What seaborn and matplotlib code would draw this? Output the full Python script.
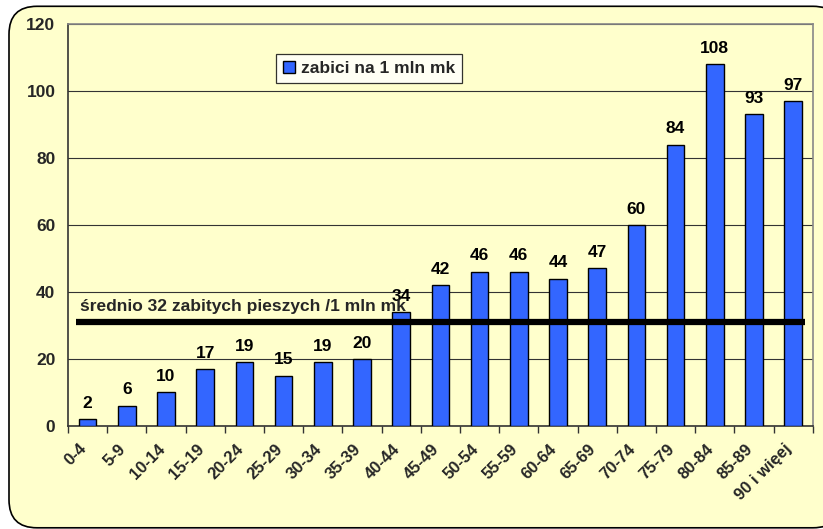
import matplotlib
matplotlib.use("Agg")
import matplotlib.pyplot as plt
import matplotlib.transforms as mtransforms
import numpy as np
import seaborn as sns
from matplotlib.patches import FancyBboxPatch
from matplotlib.ticker import FixedLocator

# data
age_groups = ["0-4", "5-9", "10-14", "15-19", "20-24", "25-29", "30-34", "35-39",
              "40-44", "45-49", "50-54", "55-59", "60-64", "65-69", "70-74",
              "75-79", "80-84", "85-89", "90 i więej"]
killed_per_mln = [2, 6, 10, 17, 19, 15, 19, 20, 34, 42, 46, 46, 44, 47, 60,
                  84, 108, 93, 97]
average_level = 31
average_label = "średnio 32 zabitych pieszych /1 mln mk"
series_label = "zabici na 1 mln mk"

BG = "#FFFFCC"
BAR = "#3366FF"

sns.set_theme(style="white")
plt.rcParams["font.family"] = ["Liberation Sans", "DejaVu Sans"]
plt.rcParams["font.weight"] = "bold"

fig = plt.figure(figsize=(8.23, 5.29), dpi=100)
fig.patch.set_facecolor("white")
# rounded chart frame, right edge just past the picture
frame = FancyBboxPatch((0.09, 0.012), 8.32, 5.215,
                       boxstyle="round,pad=0,rounding_size=0.28",
                       transform=fig.dpi_scale_trans, facecolor=BG,
                       edgecolor="black", linewidth=1.2, zorder=-10)
fig.patches.append(frame)

ax = fig.add_axes([0.0826, 0.195, 0.905, 0.7596])
ax.set_facecolor(BG)

sns.barplot(x=age_groups, y=killed_per_mln, color=BAR, width=0.45,
            edgecolor="black", linewidth=1.0, saturation=1, ax=ax,
            label=series_label, zorder=3)

ax.bar_label(ax.containers[0], fmt="%d", padding=6, fontsize=12.5,
             fontweight="bold", color="black")

ax.set_ylim(0, 120)
ax.set_xlim(-0.5, len(age_groups) - 0.5)
ax.set_yticks(np.arange(0, 121, 20))
ax.yaxis.grid(True, color="#333333", linewidth=0.8, zorder=0)
ax.set_axisbelow(True)

ax.tick_params(axis="y", length=5, width=1, color="#333333", pad=4,
               labelsize=12.5)
ax.tick_params(axis="x", which="major", length=0, labelsize=12, pad=11)
ax.xaxis.set_minor_locator(FixedLocator(np.arange(-0.5, len(age_groups), 1)))
ax.tick_params(axis="x", which="minor", length=5, width=1, color="#333333",
               direction="out", bottom=True)
for lbl in ax.get_yticklabels():
    lbl.set_fontweight("bold")
shift = mtransforms.ScaledTranslation(-9 / 100, 0, fig.dpi_scale_trans)
for lbl in ax.get_xticklabels():
    lbl.set_rotation(45)
    lbl.set_ha("right")
    lbl.set_va("top")
    lbl.set_rotation_mode("anchor")
    lbl.set_fontweight("bold")
    lbl.set_transform(lbl.get_transform() + shift)

ax.set_xlabel("")
ax.set_ylabel("")

for side in ["left", "bottom"]:
    ax.spines[side].set_color("#333333")
    ax.spines[side].set_linewidth(1.2)
for side in ["top", "right"]:
    ax.spines[side].set_color("#888888")
    ax.spines[side].set_linewidth(1.2)

ax.hlines(average_level, -0.3, len(age_groups) - 0.7, color="black",
          linewidth=4.5, zorder=5)
ax.text(-0.2, average_level + 2.3, average_label, fontsize=12.5,
        fontweight="bold", ha="left", va="bottom", zorder=6)

leg = ax.legend(loc="upper left", bbox_to_anchor=(0.279, 0.925),
                frameon=True, fancybox=False, fontsize=12.5,
                handlelength=0.7, handleheight=0.7, handletextpad=0.35,
                borderpad=0.4, borderaxespad=0)
leg.get_frame().set_facecolor("white")
leg.get_frame().set_edgecolor("black")
leg.get_frame().set_linewidth(0.9)
for t in leg.get_texts():
    t.set_fontweight("bold")

fig.savefig("out.png", dpi=100, facecolor=fig.get_facecolor())
